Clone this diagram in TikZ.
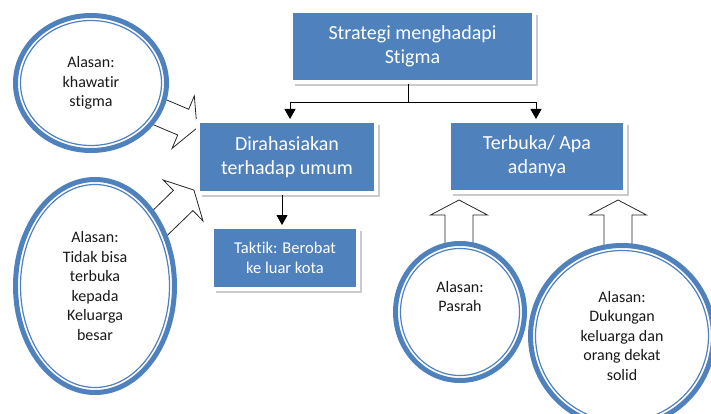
\documentclass[tikz,border=0pt]{standalone}
\usepackage{fontspec}
\setmainfont{Carlito}[Ligatures=NoCommon]
\usetikzlibrary{arrows.meta,positioning,calc,shapes.geometric,shadows}
\definecolor{boxblue}{RGB}{79,129,189}
\definecolor{ringblue}{RGB}{79,129,189}
\tikzset{
  box/.style    = {draw=white, line width=4pt, fill=boxblue, text=white,
                   align=center, inner sep=0pt,
                   font=\fontsize{20}{24}\selectfont,
                   drop shadow={shadow xshift=4pt, shadow yshift=-4pt,
                                fill=black!45, opacity=.45}},
  tbox/.style   = {box, font=\fontsize{16.5}{19.5}\selectfont},
  reason/.style = {ellipse, draw=ringblue, line width=5pt, fill=white,
                   align=center, inner sep=0pt, text=black!90,
                   font=\fontsize{16}{19.5}\selectfont},
  ring/.style   = {draw=ringblue, line width=1.2pt},
  link/.style   = {-{Triangle[width=11pt,length=10pt]}, line width=1pt},
  barrow/.style = {draw=black!85, fill=white, line width=.8pt, line join=miter}
}
% hollow block arrow from #1 to its tip #2
\newcommand{\blockarrow}[2]{%
  \draw[barrow] let \p1=($(#2)-(#1)$), \n1={atan2(\y1,\x1)},
                    \n2={veclen(\x1,\y1)} in
    [shift={(#1)}, rotate=\n1]
    (0pt,-14pt) -- ({\n2-15pt},-14pt) -- ({\n2-15pt},-28.5pt)
    -- ({\n2+0pt},0pt) -- ({\n2-15pt},28.5pt) -- ({\n2-15pt},14pt)
    -- (0pt,14pt) -- cycle;}

\begin{document}
\begin{tikzpicture}[x=1pt,y=-1pt]
  \useasboundingbox (0,0) rectangle (711,414);

  % ---- block arrows (drawn first, circles and boxes lie on top) ----
  \coordinate (khwc) at (91,83);
  \coordinate (tdkc) at (95,286);
  \coordinate (khwtip) at (197,128);
  \coordinate (tdktip) at (194,190);
  \coordinate (pastail) at (459,312);
  \coordinate (pastip) at (459,200);
  \coordinate (duktail) at (618,320);
  \coordinate (duktip) at (618,200);
  \blockarrow{khwc}{khwtip}
  \blockarrow{tdkc}{tdktip}
  \blockarrow{pastail}{pastip}
  \blockarrow{duktail}{duktip}

  % ---- reasons ----
  \node[reason, minimum width=151pt, minimum height=135pt] (khw) at (khwc)
    {Alasan:\\khawatir\\stigma};
  \draw[ring] (khw.center) ellipse [x radius=70.5pt, y radius=62.5pt];
  \node[reason, minimum width=159pt, minimum height=213pt] (tdk) at (tdkc)
    {Alasan:\\Tidak bisa\\terbuka\\kepada\\Keluarga\\besar};
  \draw[ring] (tdk.center) ellipse [x radius=74.5pt, y radius=101.5pt];
  \node[reason, minimum width=129pt, minimum height=137pt] (pas) at (460,312)
    {Alasan:\\Pasrah\\[12pt]~};
  \draw[ring] (pas.center) ellipse [x radius=59.5pt, y radius=63.5pt];
  \node[reason, minimum width=183pt, minimum height=181pt] (duk) at (622,336)
    {Alasan:\\Dukungan\\keluarga dan\\orang dekat\\solid};
  \draw[ring] (duk.center) ellipse [x radius=86.5pt, y radius=85.5pt];

  % ---- strategy boxes ----
  \node[box, minimum width=243pt, minimum height=71pt] (top) at (412.5,46.5)
    {Strategi menghadapi\\Stigma};
  \node[box, minimum width=178pt, minimum height=72pt] (dir) at (287,157)
    {Dirahasiakan\\terhadap umum};
  \node[box, minimum width=176pt, minimum height=71pt] (terb) at (537,156.5)
    {Terbuka/ Apa\\adanya};
  \node[tbox, minimum width=146pt, minimum height=62pt] (tak) at (285,258)
    {Taktik: Berobat\\ke luar kota};

  % ---- connectors ----
  \coordinate (fork) at (408,103);
  \draw[line width=1pt] (top.south -| fork) -- (fork);
  \draw[link] (fork) -| ([xshift=3pt]dir.north);
  \draw[link] (fork) -| ([xshift=-1pt]terb.north);
  \draw[link] ([xshift=-5pt]dir.south) -- ([xshift=-3pt]tak.north);
\end{tikzpicture}
\end{document}
